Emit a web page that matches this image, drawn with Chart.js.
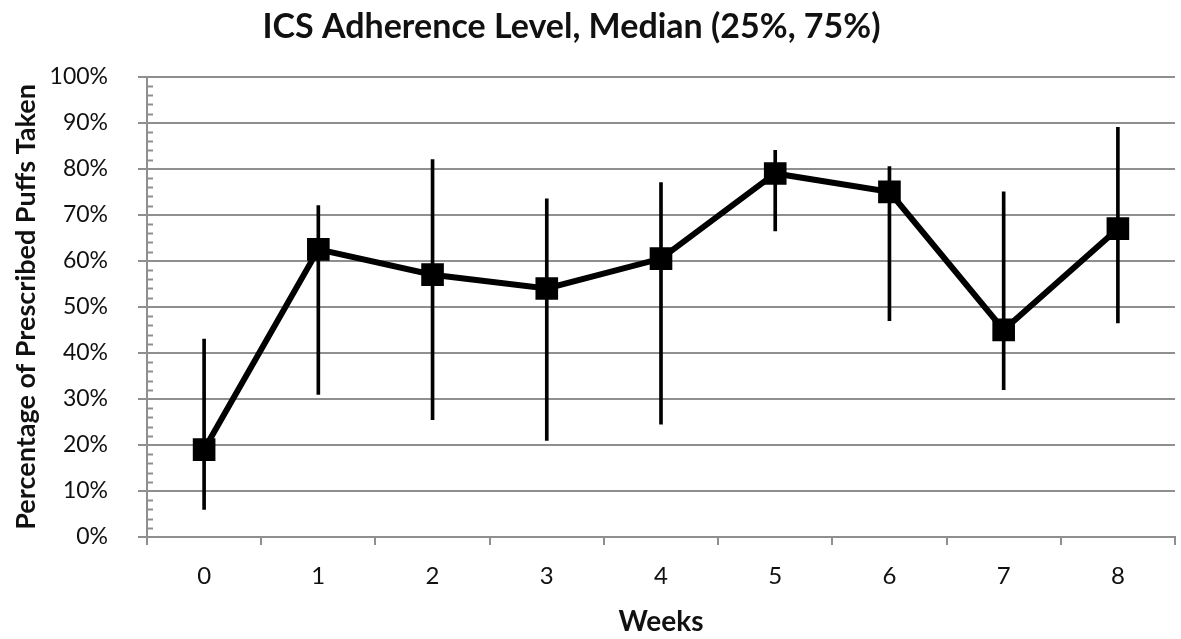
<!DOCTYPE html>
<html>
<head>
<meta charset="utf-8">
<script src="https://cdn.jsdelivr.net/npm/chart.js@4/dist/chart.umd.min.js"></script>
<style>
  html, body { margin: 0; padding: 0; background: #fff; }
  #wrap { width: 1181px; height: 639px; }
</style>
</head>
<body>
<div id="wrap"><canvas id="adherenceChart"></canvas></div>
<script>
// Weeks on the x axis
const weeks = ['0', '1', '2', '3', '4', '5', '6', '7', '8'];

// Median adherence (%) and the 25% / 75% quantiles
const median = [19, 62.5, 57, 54, 60.5, 79, 75, 45, 67];
const q25 = [6, 31, 25.5, 21, 24.5, 66.5, 47, 32, 46.5];
const q75 = [43, 72, 82, 73.5, 77, 84, 80.5, 75, 89];

const gridGray = '#8f8f8f';
const fontFamily = 'Lato, "Open Sans", sans-serif';

// small minor ticks every 2% on the inside of the y axis
const minorTicks = {
    id: 'minorTicks',
    afterLayout(chart) {
        // title sits a little left of the canvas centre in the original
        chart.titleBlock.right -= 32;
    },
    afterDraw(chart) {
        const y = chart.scales.y;
        const ctx = chart.ctx;
        ctx.save();
        ctx.strokeStyle = gridGray;
        ctx.lineWidth = 2;
        for (let v = 0; v <= 100; v += 2) {
            if (v % 10 === 0) continue;
            const py = Math.round(y.getPixelForValue(v)) + 0.5;
            ctx.beginPath();
            ctx.moveTo(y.right, py);
            ctx.lineTo(y.right + 6, py);
            ctx.stroke();
        }
        ctx.restore();
    }
};

new Chart(document.getElementById('adherenceChart'), {
    type: 'bar',
    data: {
        labels: weeks,
        datasets: [{
            type: 'line',
            label: 'Median',
            data: median,
            borderColor: '#000',
            borderWidth: 6,
            pointStyle: 'rect',
            pointRadius: 16,
            pointBackgroundColor: '#000',
            pointBorderColor: '#000',
            pointBorderWidth: 0,
            tension: 0,
            order: 0
        }, {
            type: 'bar',
            label: '25%-75%',
            data: q25.map((lo, i) => [lo, q75[i]]),
            backgroundColor: '#000',
            barThickness: 3,
            order: 1
        }]
    },
    options: {
        responsive: true,
        maintainAspectRatio: false,
        animation: false,
        layout: { autoPadding: false, padding: { left: 0, right: 6, top: 0, bottom: 0 } },
        plugins: {
            legend: { display: false },
            tooltip: { enabled: false },
            title: {
                display: true,
                text: 'ICS Adherence Level, Median (25%, 75%)',
                color: '#111',
                font: { family: fontFamily, size: 34, weight: 'bold' },
                padding: { top: 7, bottom: 29 }
            }
        },
        scales: {
            x: {
                offset: true,
                grid: {
                    offset: true,
                    drawOnChartArea: false,
                    color: gridGray,
                    lineWidth: 2,
                    tickLength: 8
                },
                border: { color: gridGray, width: 2 },
                ticks: {
                    color: '#111',
                    padding: 17,
                    font: { family: fontFamily, size: 24 }
                },
                title: {
                    display: true,
                    text: 'Weeks',
                    color: '#111',
                    font: { family: fontFamily, size: 28, weight: 'bold' },
                    padding: { top: 0, bottom: 0 }
                },
                afterFit(scale) {
                    scale.height = 102;
                    scale.paddingLeft = 0;
                    scale.paddingRight = 0;
                }
            },
            y: {
                min: 0,
                max: 100,
                ticks: {
                    stepSize: 10,
                    color: '#111',
                    padding: 30,
                    font: { family: fontFamily, size: 23 },
                    callback: v => v + '%'
                },
                grid: {
                    color: gridGray,
                    lineWidth: 2,
                    tickLength: 9
                },
                border: { color: gridGray, width: 2 },
                title: {
                    display: true,
                    text: 'Percentage of Prescribed Puffs Taken',
                    color: '#111',
                    font: { family: fontFamily, size: 27, weight: 'bold' },
                    padding: { top: 10, bottom: 0 }
                },
                afterFit(scale) { scale.width = 147; }
            }
        }
    },
    plugins: [minorTicks]
});
</script>
</body>
</html>
